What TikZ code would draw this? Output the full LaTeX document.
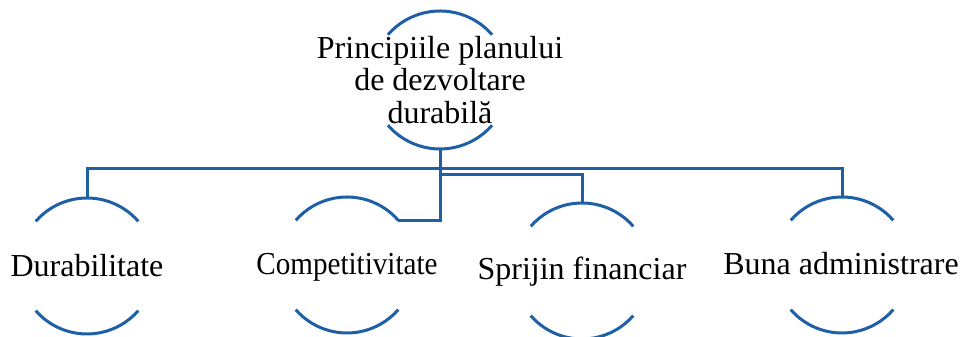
\documentclass[tikz,border=0pt]{standalone}
\usepackage{fontspec}
\setmainfont{Liberation Serif}
\usepackage{xcolor}
\usetikzlibrary{calc}
\definecolor{lineblue}{HTML}{1F5FA6}

% arcs above and below a label
\newcommand{\ringarcs}[2]{%
  \draw[line] ([shift={(41:#2)}]#1) arc[start angle=41,end angle=139,radius=#2];
  \draw[line] ([shift={(221:#2)}]#1) arc[start angle=221,end angle=319,radius=#2];}

\begin{document}
\begin{tikzpicture}[x=0.4pt,y=0.4pt,
    line/.style={draw=lineblue, line width=1.2pt},
    label/.style={inner sep=0pt, font=\fontsize{12.8}{13}\selectfont}]
        \useasboundingbox (0,0) rectangle (964,337);

        % Centres of the rings
        \coordinate (cTop) at (440,257);
        \coordinate (cDur) at (87,71);
        \coordinate (cComp) at (347,72);
        \coordinate (cSpr) at (582,66);
        \coordinate (cBuna) at (842,72);

        % Bus lines
        \coordinate (bus) at (440,168);
        \coordinate (busb) at (440,162);

        % Rings
        \ringarcs{cTop}{69}
        \ringarcs{cDur}{68}
        \ringarcs{cComp}{68}
        \ringarcs{cSpr}{68}
        \ringarcs{cBuna}{68}

        % Labels
        \node[label, align=center] (top) at (cTop) {Principiile planului\\de dezvoltare\\durabilă};
        \node[label, anchor=base] (dur) at (87,60) {Durabilitate};
        \node[label, anchor=base] (comp) at (347,62) {\scalebox{0.91}[1]{Competitivitate}};
        \node[label, anchor=base] (spr) at (582,57) {Sprijin financiar};
        \node[label, anchor=base] (buna) at (841,62) {Buna administrare};

        % Connectors
        \draw[line] ($(cDur)+(0,68)$) |- (bus) -| ($(cBuna)+(0,68)$);
        \draw[line] (busb) -| ($(cSpr)+(0,68)$);
        \draw[line] ($(cTop)+(0,-69)$) |- ($(cComp)+(41:68)$);
    \end{tikzpicture}
\end{document}
